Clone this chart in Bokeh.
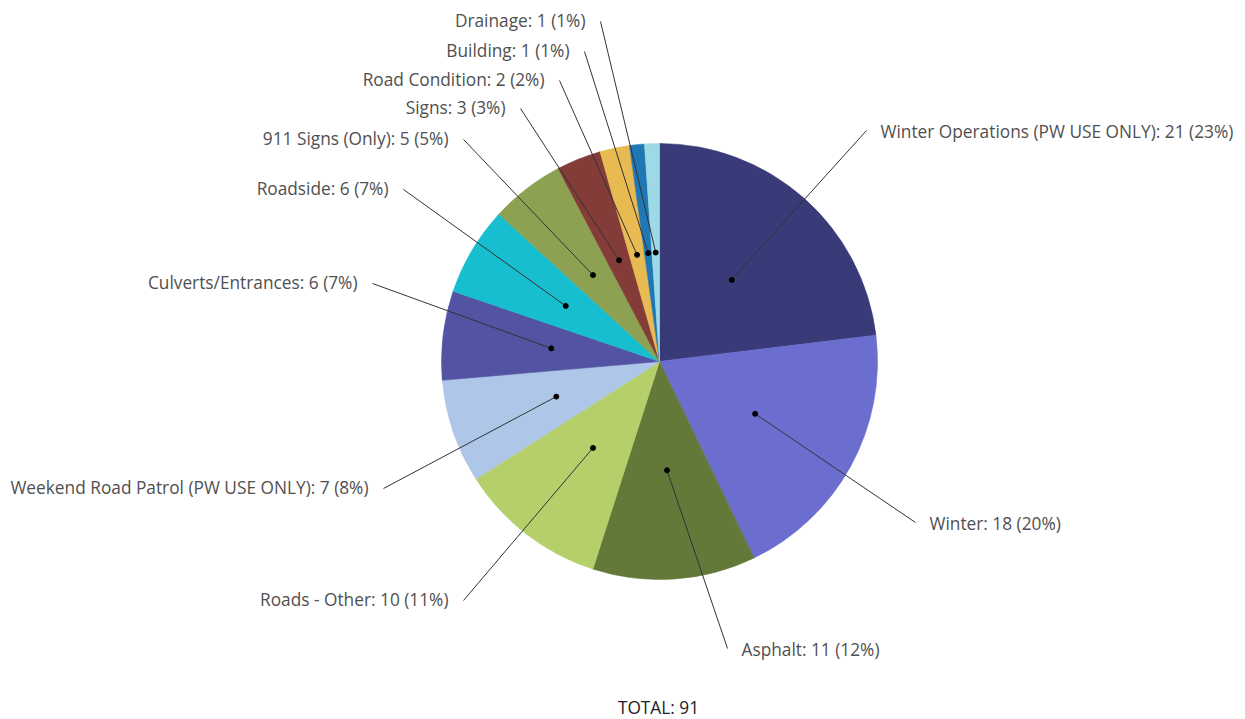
import numpy as np
from bokeh.plotting import figure
from bokeh.models import Range1d, ColumnDataSource
from bokeh.core.properties import value
from bokeh.embed import file_html
from bokeh.resources import INLINE

categories = ["Winter Operations (PW USE ONLY)", "Winter", "Asphalt", "Roads - Other",
              "Weekend Road Patrol (PW USE ONLY)", "Culverts/Entrances", "Roadside",
              "911 Signs (Only)", "Signs", "Road Condition", "Building", "Drainage"]
counts = [21, 18, 11, 10, 7, 6, 6, 5, 3, 2, 1, 1]
colors = ["#393b79", "#6b6ecf", "#637939", "#b5cf6b", "#aec7e8", "#5254a3",
          "#17becf", "#8ca252", "#843c39", "#e7ba52", "#1f77b4", "#9edae5"]

# layout only: where each leader line ends, offset from pie centre in pixels (x right, y down)
label_ends = [(207, -231), (256, 161), (68, 287), (-196, 239), (-276, 127), (-287, -78),
              (-256, -172), (-196, -222), (-139, -253), (-100, -281), (-75, -310), (-59, -340)]

W, H = 1245, 719
FONT = "Open Sans"
cx, cy, R = 659, H - 361, 218

total = sum(counts)
vals = np.array(counts, dtype=float)
frac = vals / total
cum = np.concatenate([[0], np.cumsum(frac)])
start = np.pi / 2 - cum[:-1] * 2 * np.pi
end = np.pi / 2 - cum[1:] * 2 * np.pi
mid = (start + end) / 2

p = figure(width=W, height=H, output_backend="svg", toolbar_location=None,
           x_range=Range1d(0, W), y_range=Range1d(0, H),
           min_border=0, outline_line_color=None)
p.axis.visible = False
p.grid.visible = False
p.background_fill_color = "white"
p.border_fill_color = "white"

src = ColumnDataSource(dict(start=start, end=end, color=colors))
p.wedge(x=cx, y=cy, radius=R, start_angle="start", end_angle="end", direction="clock",
        fill_color="color", line_color="color", line_width=0.6, source=src)

dx = cx + 0.5 * R * np.cos(mid)
dy = cy + 0.5 * R * np.sin(mid)
ex = np.array([cx + e[0] for e in label_ends], dtype=float)
ey = np.array([cy - e[1] for e in label_ends], dtype=float)

p.segment(x0=dx, y0=dy, x1=ex, y1=ey, line_color="#333333", line_width=1)
p.scatter(x=dx, y=dy, size=5, fill_color="black", line_color="black")

labels = [f"{c}: {v} ({round(v / total * 100)}%)" for c, v in zip(categories, counts)]
right = ex > cx
tx = np.where(right, ex + 14, ex - 15)
ty = np.where(right, ey - 1, ey + 1)
lsrc = ColumnDataSource(dict(x=tx, y=ty, t=labels, a=np.where(right, "left", "right")))
p.text(x="x", y="y", text="t", text_align="a", text_baseline="middle",
       text_font=value(FONT), text_font_size="17.3px", text_color="#505050", source=lsrc)

p.text(x=[cx - 1], y=[H - 707], text=[f"TOTAL: {total}"], text_align="center",
       text_baseline="middle", text_font=value(FONT), text_font_size="17.3px",
       text_color="#222222")

open("out.html", "w").write(file_html(p, INLINE))
